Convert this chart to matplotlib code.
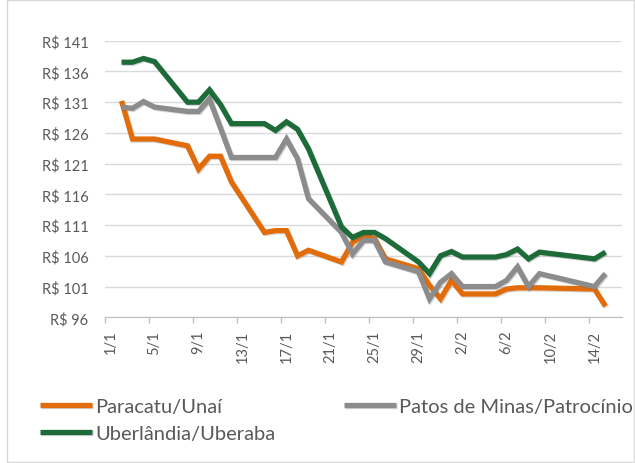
import datetime as dt

import matplotlib
matplotlib.use("Agg")
import matplotlib.pyplot as plt
import matplotlib.patches as mpatches
import matplotlib.patheffects as pe

# business days (2018, carnival 12-13/2 missing)
dates = ["02/01", "03/01", "04/01", "05/01",
         "08/01", "09/01", "10/01", "11/01", "12/01",
         "15/01", "16/01", "17/01", "18/01", "19/01",
         "22/01", "23/01", "24/01", "25/01", "26/01",
         "29/01", "30/01", "31/01", "01/02", "02/02",
         "05/02", "06/02", "07/02", "08/02", "09/02",
         "14/02", "15/02"]

paracatu = [131.2, 125.0, 125.0, 125.0,
            123.9, 120.1, 122.2, 122.2, 118.0,
            109.8, 110.1, 110.1, 106.0, 106.9,
            105.0, 108.2, 109.3, 108.8, 105.5,
            103.9, 101.2, 99.0, 102.0, 99.8,
            99.8, 100.6, 100.8, 100.8, 100.8,
            100.6, 97.8]

patos = [130.2, 130.0, 131.1, 130.2,
         129.5, 129.5, 131.5, 126.8, 122.0,
         122.0, 122.0, 125.0, 121.8, 115.3,
         109.8, 106.3, 108.5, 108.5, 105.0,
         103.4, 99.0, 101.7, 103.1, 101.0,
         101.0, 102.0, 104.2, 101.0, 103.1,
         101.0, 103.1]

uberlandia = [137.5, 137.5, 138.1, 137.6,
              131.0, 131.0, 133.0, 130.6, 127.5,
              127.5, 126.4, 127.8, 126.6, 123.4,
              110.7, 109.0, 109.8, 109.8, 108.8,
              105.0, 103.1, 106.0, 106.7, 105.8,
              105.8, 106.2, 107.1, 105.5, 106.6,
              105.5, 106.6]

series_names = ["Paracatu/Unaí", "Patos de Minas/Patrocínio", "Uberlândia/Uberaba"]
series_colors = ["#E36C0A", "#8C8C8C", "#1E6B3A"]

tick_labels = ["1/1", "5/1", "9/1", "13/1", "17/1", "21/1", "25/1",
               "29/1", "2/2", "6/2", "10/2", "14/2"]
y_ticks = [96, 101, 106, 111, 116, 121, 126, 131, 136, 141]

plt.rcParams["font.family"] = ["Lato", "DejaVu Sans"]
text_color = "#595959"

x = [dt.datetime.strptime(d + "/2018", "%d/%m/%Y") for d in dates]
tick_dates = [dt.datetime.strptime(t + "/2018", "%d/%m/%Y") for t in tick_labels]
half_day = dt.timedelta(hours=12)

fig = plt.figure(figsize=(6.35, 4.64), dpi=100)
ax = fig.add_axes([105 / 635, 1 - 318.3 / 464, 517 / 635, (318.3 - 41.7) / 464])

shadow = [pe.SimpleLineShadow(offset=(0.8, -0.8), alpha=0.25, shadow_color="#555555"), pe.Normal()]
handles = []
for vals, name, col in zip([paracatu, patos, uberlandia], series_names, series_colors):
    ln, = ax.plot(x, vals, color=col, lw=3.8, solid_joinstyle="miter",
                  solid_capstyle="butt", label=name, path_effects=shadow, zorder=3)
    handles.append(ln)

ax.set_ylim(96, 141)
ax.set_yticks(y_ticks)
ax.set_yticklabels(["R$ " + str(v) for v in y_ticks])
ax.set_xlim(dt.datetime(2017, 12, 31, 12), dt.datetime(2018, 2, 16, 12))
ax.set_xticks(tick_dates)
ax.set_xticklabels(tick_labels, rotation=90)
ax.set_xticks([t - half_day for t in tick_dates], minor=True)

ax.tick_params(axis="y", length=0, pad=12, labelsize=10.5, labelcolor=text_color)
ax.tick_params(axis="x", which="major", length=0, pad=9, labelsize=10.5, labelcolor=text_color)
ax.tick_params(axis="x", which="minor", length=4, width=1, color="#bfbfbf")

ax.grid(axis="y", color="#d9d9d9", lw=1)
ax.set_axisbelow(True)
for s in ["top", "right", "left"]:
    ax.spines[s].set_visible(False)
ax.spines["bottom"].set_color("#bfbfbf")

# legend, row-major order like the original
order = [0, 2, 1]
fig.legend([handles[i] for i in order], [series_names[i] for i in order],
           loc="upper left", bbox_to_anchor=(40 / 635, 1 - 399 / 464),
           ncol=2, frameon=False, fontsize=14.5, handlelength=2.6,
           handletextpad=0.15, columnspacing=3.4, labelspacing=0.5,
           borderaxespad=0, borderpad=0, labelcolor=text_color)

fig.patches.append(mpatches.Rectangle((7 / 635, 0.002), 1 - 8.5 / 635, 0.995,
                                      transform=fig.transFigure, fill=False,
                                      edgecolor="#d9d9d9", lw=1))

fig.savefig("out.png", dpi=100)
